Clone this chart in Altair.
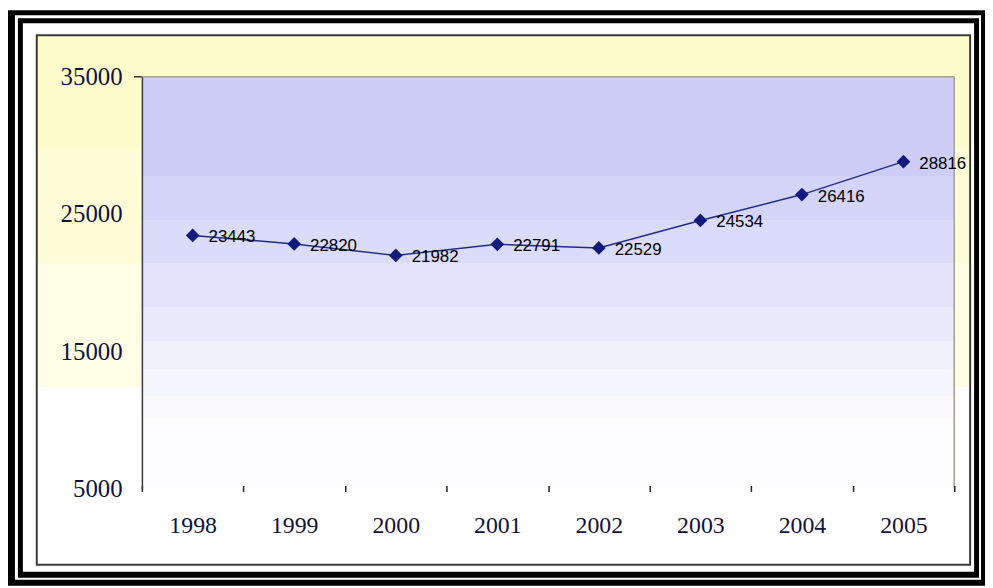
import altair as alt
import pandas as pd

years = ["1998", "1999", "2000", "2001", "2002", "2003", "2004", "2005"]
values = [23443, 22820, 21982, 22791, 22529, 24534, 26416, 28816]
y_ticks = [5000, 15000, 25000, 35000]

df = pd.DataFrame({"year": years, "value": values})
one = pd.DataFrame({"d": [0]})

W, H = 819, 415


def box(x, x2, y, y2, color):
    return alt.Chart(one).mark_rect(color=color, opacity=1).encode(
        x=alt.value(x), x2=alt.value(x2), y=alt.value(y), y2=alt.value(y2)
    )


def stepped(colors, offsets):
    stops = []
    for i, c in enumerate(colors):
        start = 0 if i == 0 else offsets[i - 1]
        end = 1 if i == len(colors) - 1 else offsets[i]
        stops.append(alt.GradientStop(offset=start, color=c))
        stops.append(alt.GradientStop(offset=end, color=c))
    return alt.LinearGradient(gradient="linear", stops=stops, x1=0, x2=0, y1=0, y2=1)


yellow = stepped(["#fefccb", "#fefdd8", "#fefee7", "#ffffff"], [0.214, 0.43, 0.665])
blue = stepped(
    ["#cdcdf8", "#d4d4f9", "#dbdbfa", "#e3e3fb", "#eaeafc", "#f0f0fd", "#f5f5fe", "#f9f9fe", "#fdfdff"],
    [0.241, 0.349, 0.453, 0.559, 0.643, 0.711, 0.776, 0.831],
)

frame = [
    box(-135, 850, -67, 513, "#000000"),
    box(-128, 846, -62, 507, "#ffffff"),
    box(-125, 844, -59, 505, "#000000"),
    box(-120, 839, -54, 499, "#ffffff"),
    box(-107, 836, -43, 493, "#3a3a3a"),
    box(-105, 834, -41, 491, yellow),
    box(0, W, 0, H, blue),
]

top_border = alt.Chart(one).mark_rule(color="#ab9f8d", strokeWidth=1.5).encode(
    x=alt.value(0), x2=alt.value(W), y=alt.value(0)
)
right_border = alt.Chart(one).mark_rule(color="#ab9f8d", strokeWidth=1.5).encode(
    x=alt.value(W), y=alt.value(0), y2=alt.value(H)
)
top_tick = alt.Chart(one).mark_rule(color="#333333", strokeWidth=1.5).encode(
    x=alt.value(-8), x2=alt.value(0), y=alt.value(0)
)

x_enc = alt.X(
    "year:O",
    sort=years,
    bandPosition=0.5,
    scale=alt.Scale(type="band", paddingInner=0, paddingOuter=0),
    axis=alt.Axis(
        title=None,
        domain=False,
        tickBand="extent",
        tickSize=6,
        tickColor="#222222",
        tickWidth=1.5,
        offset=-3,
        labelPadding=22,
        labelFont="Liberation Serif",
        labelFontSize=24,
        labelColor="#12123a",
        labelAngle=0,
        zindex=1,
    ),
)
y_enc = alt.Y(
    "value:Q",
    scale=alt.Scale(domain=[5000, 35000], nice=False, zero=False),
    axis=alt.Axis(
        title=None,
        values=y_ticks,
        format="d",
        grid=False,
        ticks=False,
        domainColor="#3a3a3a",
        domainWidth=1.5,
        labelPadding=20,
        labelFont="Liberation Serif",
        labelFontSize=25,
        labelColor="#12123a",
        zindex=1,
    ),
)

base = alt.Chart(df).encode(x=x_enc, y=y_enc)
line = base.mark_line(color="#1f2d8a", strokeWidth=1.5)
pts = base.mark_point(shape="diamond", filled=True, size=190, color="#0f1c7c", opacity=1)
labels = base.mark_text(
    align="left", baseline="middle", dx=16, dy=2, fontSize=17,
    font="Liberation Sans", color="#000000"
).encode(text=alt.Text("value:Q", format="d"))

chart = alt.layer(
    *frame, top_border, right_border, top_tick, line, pts, labels
).properties(
    width=W,
    height=H,
    autosize=alt.AutoSizeParams(type="none"),
    padding={"left": 135, "top": 67, "right": 31, "bottom": 98},
    background="#ffffff",
).configure_view(strokeWidth=0)

chart.save("out.html", embed_options={"renderer": "svg", "actions": False})
